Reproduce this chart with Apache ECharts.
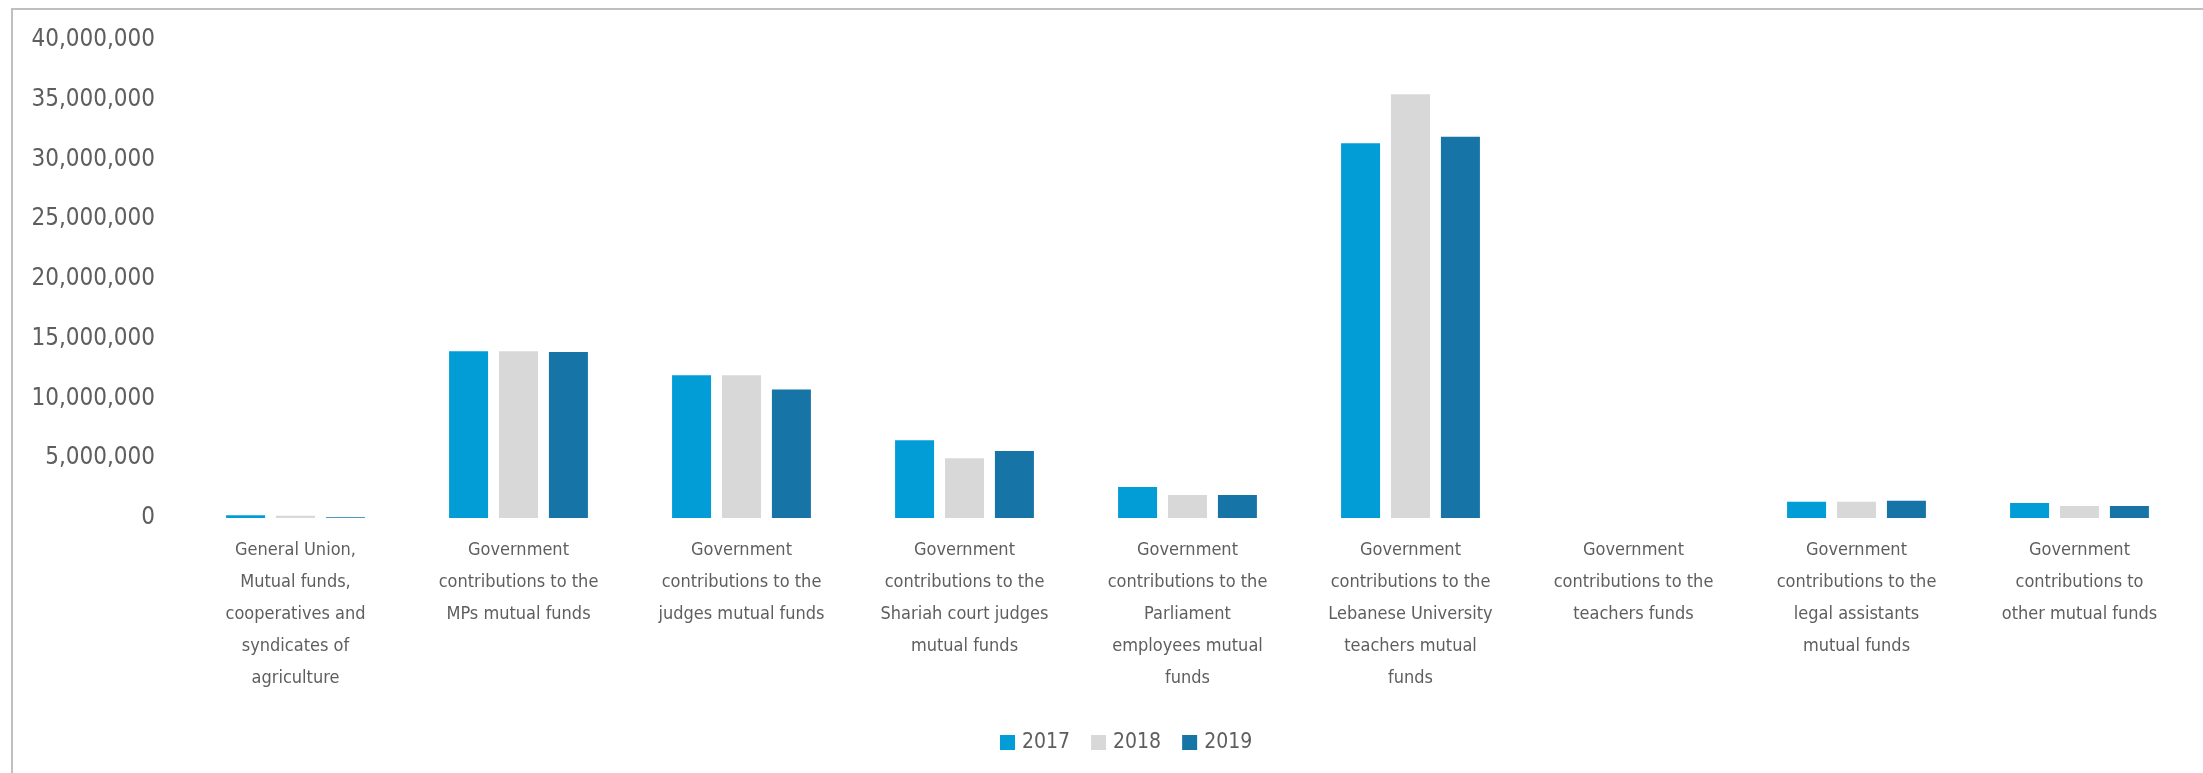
<!DOCTYPE html>
<html>
<head>
<meta charset="utf-8">
<script src="https://cdn.jsdelivr.net/npm/echarts@6/dist/echarts.min.js"></script>
<style>
  html, body { margin: 0; padding: 0; background: #fff; }
  #fundsChart { width: 2203px; height: 773px; }
</style>
</head>
<body>
<div id="fundsChart"></div>
<script>
// categories (line breaks as in the original chart)
const categories = [
  "General Union,\nMutual funds,\ncooperatives and\nsyndicates of\nagriculture",
  "Government\ncontributions to the\nMPs mutual funds",
  "Government\ncontributions to the\njudges mutual funds",
  "Government\ncontributions to the\nShariah court judges\nmutual funds",
  "Government\ncontributions to the\nParliament\nemployees mutual\nfunds",
  "Government\ncontributions to the\nLebanese University\nteachers mutual\nfunds",
  "Government\ncontributions to the\nteachers funds",
  "Government\ncontributions to the\nlegal assistants\nmutual funds",
  "Government\ncontributions to\nother mutual funds"
];
const years = ["2017", "2018", "2019"];
const values2017 = [220000, 13950000, 11950000, 6500000, 2600000, 31350000, 0, 1360000, 1250000];
const values2018 = [190000, 13950000, 11950000, 5000000, 1920000, 35450000, 0, 1360000, 1000000];
const values2019 = [60000, 13900000, 10750000, 5600000, 1920000, 31900000, 0, 1450000, 1000000];
const yMin = 0;
const yMax = 40000000;
const yStep = 5000000;

const colors = ["#029CD7", "#D8D8D8", "#1674A6"];
const fontName = "'Liberation Sans Narrow', 'DejaVu Sans Condensed', 'Roboto', sans-serif";
const textColor = "#5E5E5E";

const chart = echarts.init(document.getElementById("fundsChart"));

const seriesData = [values2017, values2018, values2019];

const option = {
  animation: false,
  color: colors,
  textStyle: { fontFamily: fontName },
  graphic: [
    {
      // outer frame of the chart box
      type: "rect",
      shape: { x: 12, y: 9, width: 2400, height: 1000 },
      style: { fill: "none", stroke: "#BFBFBF", lineWidth: 2 },
      silent: true
    }
  ],
  grid: {
    left: 184,
    right: 12,
    top: 40,
    bottom: 255,
    containLabel: false
  },
  legend: {
    data: years,
    left: 995,
    top: 727,
    itemWidth: 15,
    itemHeight: 15,
    itemGap: 21,
    icon: "rect",
    textStyle: { fontFamily: fontName, fontSize: 21, color: textColor, padding: [0, 0, 0, 2] }
  },
  xAxis: {
    type: "category",
    data: categories,
    axisLine: { show: false },
    axisTick: { show: false },
    splitLine: { show: false },
    axisLabel: {
      interval: 0,
      margin: 16,
      fontFamily: fontName,
      fontSize: 18,
      lineHeight: 32,
      color: textColor,
      align: "center"
    }
  },
  yAxis: {
    type: "value",
    min: yMin,
    max: yMax,
    interval: yStep,
    axisLine: { show: false },
    axisTick: { show: false },
    splitLine: { show: false },
    axisLabel: {
      margin: 29,
      fontFamily: fontName,
      fontSize: 24,
      color: textColor,
      formatter: function (v) {
        return v.toLocaleString("en-US");
      }
    }
  },
  series: years.map(function (y, i) {
    return {
      name: y,
      type: "bar",
      data: seriesData[i],
      barWidth: 39,
      barGap: "28%",
      itemStyle: { color: colors[i] }
    };
  })
};

chart.setOption(option);
</script>
</body>
</html>
